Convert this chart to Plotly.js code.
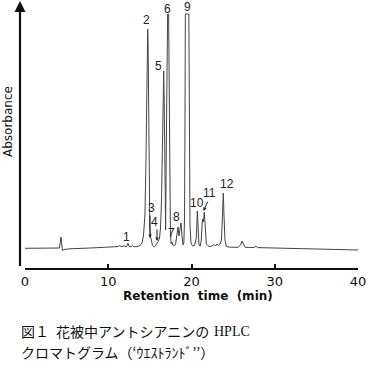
<!DOCTYPE html>
<html>
<head>
<meta charset="utf-8">
<script src="https://cdn.plot.ly/plotly-3.0.1.min.js"></script>
<style>html,body{margin:0;padding:0;background:#fff;}#chart{width:370px;height:370px;}</style>
</head>
<body>
<div id="chart"></div>
<script>
// Retention time (min)
const retentionTime = [0.00,3.00,4.14,4.32,4.50,4.68,5.41,7.81,10.21,11.17,11.35,11.53,11.77,11.89,12.01,12.19,12.37,12.55,12.73,12.91,13.09,13.45,13.81,14.05,14.23,14.41,14.53,14.63,14.70,14.74,14.79,14.85,14.92,14.99,15.08,15.17,15.32,15.50,15.68,15.86,16.01,16.16,16.28,16.40,16.52,16.61,16.66,16.72,16.82,16.89,16.97,17.06,17.13,17.25,17.32,17.39,17.47,17.56,17.66,17.75,17.90,18.08,18.26,18.38,18.50,18.62,18.74,18.86,18.98,19.08,19.16,19.22,19.26,19.68,19.74,19.82,19.94,20.12,20.36,20.58,20.70,20.80,20.90,21.06,21.18,21.26,21.32,21.42,21.54,21.66,21.78,22.10,22.46,22.70,22.88,23.06,23.24,23.42,23.60,23.72,23.82,23.90,24.02,24.18,24.62,25.59,25.89,26.07,26.25,26.43,27.51,27.75,27.93,30.63,34.23,37.84,40.00];
// Absorbance (arbitrary units)
const absorbance = [19.7,19.8,20,31,17.5,18.5,19.2,20,21,21.4,22.5,21.4,21.8,22.4,21.5,21.2,24.7,21.2,21.5,22.4,21.2,21.4,22.5,25,32,53,108,178,228,239,223,158,78,40,31,27.5,22.5,21,22,25,26.5,30,40,68,128,178,197,168,68,38,118,208,254,254,188,78,33,24.5,26,23,22.5,23.5,32,41,32,39,45,32,23,25,48,148,254,254,148,43,25,22,22.5,30,57,30,23,22,28,42,49,46,56,40,24,21.5,22,23.5,22,24,22.5,23.7,28,53,75,53,28,21.5,20.8,20.7,23,27,23,20.7,20.5,21.8,20.4,19.7,19,18.4,18];

// Peak numbers and their label anchors
const peakLabels = ["1","2","3","4","5","6","7","8","9","10","11","12"];
const peakLabelTime = [12.25,14.65,15.14,15.56,15.98,17.06,17.54,18.14,19.46,20.66,22.22,24.26];
const peakLabelAbs = [31,248,60,46,202,259,35,51,261,65,75,84];

const xTicks = [0,10,20,30,40];
const xTickText = ["0","10","20","30","40"];

const labelFont = {family: "Liberation Sans, Arial, sans-serif", size: 12, color: "#222"};

const annotations = peakLabels.map((t, i) => ({
  x: peakLabelTime[i], y: peakLabelAbs[i], xref: "x", yref: "y",
  text: t, showarrow: false, font: labelFont, xanchor: "center", yanchor: "middle"
}));

// pointer arrows for peaks 3, 4, 11
const arrowStyle = {showarrow: true, arrowhead: 2, arrowsize: 0.7, arrowwidth: 1, arrowcolor: "#222", text: "", xref: "x", yref: "y"};
annotations.push(Object.assign({x: 15.02, y: 30, ax: 0, ay: -24}, arrowStyle));
annotations.push(Object.assign({x: 15.86, y: 27, ax: 0, ay: -13}, arrowStyle));
annotations.push(Object.assign({x: 21.44, y: 57, ax: 5, ay: -11}, arrowStyle));

// y-axis arrow
annotations.push({
  x: -0.015, y: 1.006, xref: "paper", yref: "paper", text: "",
  showarrow: true, arrowhead: 2, arrowsize: 1, arrowwidth: 2.2, arrowcolor: "#111",
  ax: 0, ay: 267
});
// y-axis title
annotations.push({
  x: -0.051, y: 0.549, xref: "paper", yref: "paper", text: "Absorbance",
  textangle: -90, showarrow: false, xanchor: "center", yanchor: "middle",
  font: {family: "DejaVu Sans, sans-serif", size: 12, color: "#111"}
});
// x-axis title
annotations.push({
  x: 0.52, y: -0.105, xref: "paper", yref: "paper", text: "Retention  time  (min)",
  showarrow: false, xanchor: "center", yanchor: "middle",
  font: {family: "DejaVu Sans, sans-serif", size: 12, color: "#111", weight: "bold"}
});
// caption
const cjk = "Noto Sans CJK JP, sans-serif";
annotations.push({
  x: -0.018, y: -0.2387, xref: "paper", yref: "paper",
  text: "図１\u2002花被中アントシアニンの",
  showarrow: false, xanchor: "left", yanchor: "middle",
  font: {family: cjk, size: 14, color: "#111"}
});
annotations.push({
  x: 0.562, y: -0.2387, xref: "paper", yref: "paper",
  text: "HPLC",
  showarrow: false, xanchor: "left", yanchor: "middle",
  font: {family: "Liberation Serif, serif", size: 14, color: "#111"}
});
annotations.push({
  x: -0.018, y: -0.3147, xref: "paper", yref: "paper",
  text: "クロマトグラム（‘ｳｴｽﾄﾗﾝﾄﾞ’’）",
  showarrow: false, xanchor: "left", yanchor: "middle",
  font: {family: cjk, size: 14, color: "#111"}
});

const trace = {
  x: retentionTime, y: absorbance, type: "scatter", mode: "lines",
  line: {color: "#444", width: 1}, hoverinfo: "skip"
};

const layout = {
  width: 370, height: 370,
  margin: {l: 25, r: 12, t: 2, b: 102, pad: 0},
  paper_bgcolor: "#fff", plot_bgcolor: "#fff",
  showlegend: false,
  xaxis: {
    range: [0, 40], showgrid: false, zeroline: false,
    showline: true, linecolor: "#111", linewidth: 2,
    ticks: "inside", ticklen: 4, tickwidth: 2, tickcolor: "#111",
    tickvals: xTicks, ticktext: xTickText,
    tickfont: {family: "DejaVu Sans, sans-serif", size: 13, color: "#111"}
  },
  yaxis: {
    range: [0, 266], visible: false, showgrid: false, zeroline: false
  },
  annotations: annotations
};

Plotly.newPlot("chart", [trace], layout, {staticPlot: true, displayModeBar: false});
</script>
</body>
</html>
